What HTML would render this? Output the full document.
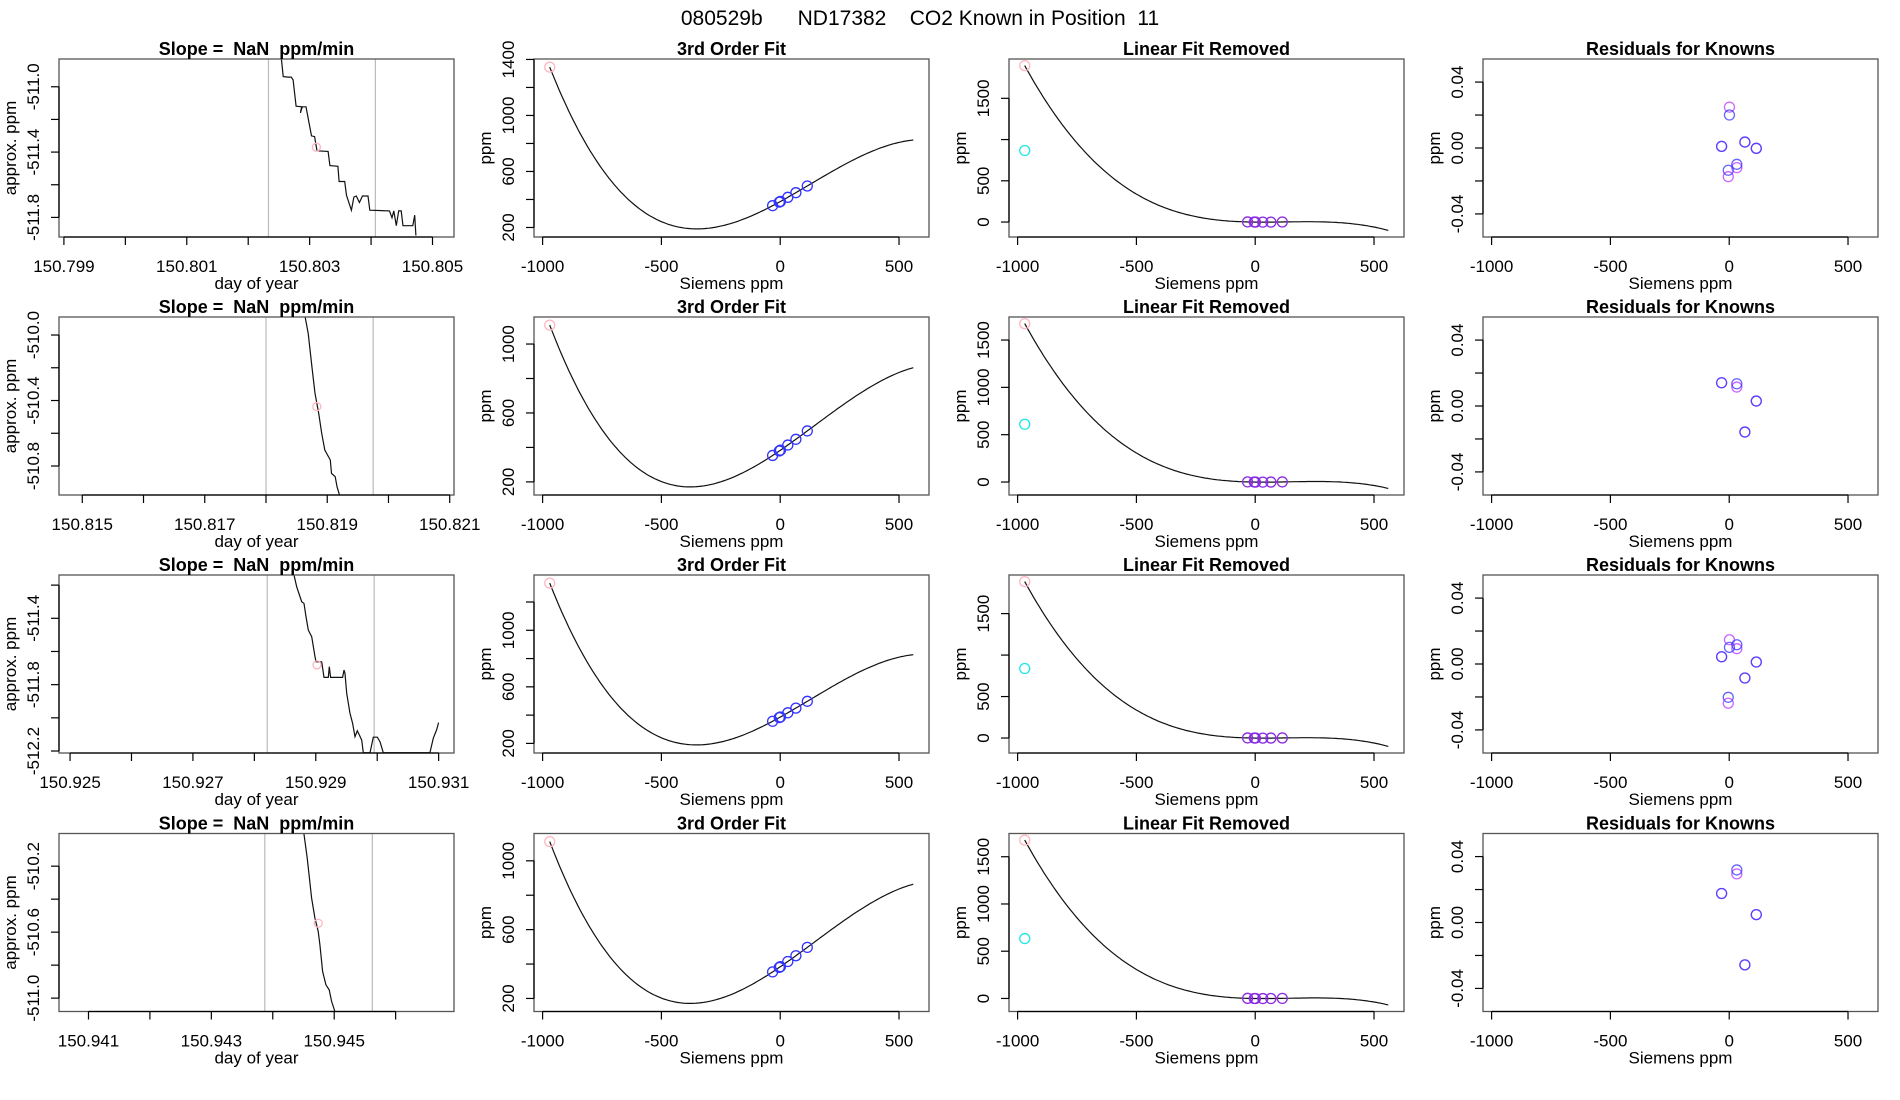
<!DOCTYPE html>
<html><head><meta charset="utf-8"><style>
html,body{margin:0;padding:0;background:#fff;}
svg{display:block;font-family:"Liberation Sans",Arial,sans-serif;}
</style></head><body>
<svg id="chart" width="1900" height="1100" viewBox="0 0 1900 1100" xmlns="http://www.w3.org/2000/svg">
<rect width="1900" height="1100" fill="#fff"/>
<text x="920" y="25" font-size="21" text-anchor="middle" xml:space="preserve">080529b      ND17382    CO2 Known in Position  11</text>
</svg>
<script>
// ---- time-trace data (column 1) ----
const trace1X = [150.80254,150.80257,150.80265,150.80270,150.80273,150.80278,150.80287,150.80285,150.80288,150.80294,150.80303,150.80308,150.80312,150.80330,150.80333,150.80346,150.80348,150.80357,150.80360,150.80368,150.80372,150.80376,150.80381,150.80386,150.80395,150.80398,150.80430,150.80434,150.80437,150.80441,150.80445,150.80449,150.80452,150.80468,150.80471,150.80473];
const trace1Y = [-510.828,-510.938,-510.941,-510.941,-510.958,-511.119,-511.123,-511.160,-511.123,-511.123,-511.301,-511.305,-511.392,-511.396,-511.483,-511.487,-511.580,-511.580,-511.665,-511.756,-511.675,-511.669,-511.709,-511.669,-511.669,-511.756,-511.760,-511.802,-511.760,-511.851,-511.760,-511.760,-511.851,-511.851,-511.786,-511.911];
const trace2X = [150.81864,150.81869,150.81875,150.81880,150.81886,150.81891,150.81896,150.81905,150.81907,150.81913,150.81916,150.81920];
const trace2Y = [-509.892,-509.990,-510.193,-510.356,-510.478,-510.600,-510.702,-510.763,-510.845,-510.865,-510.926,-510.977];
const trace3X = [150.928645,150.928689,150.928770,150.928808,150.928840,150.928878,150.928933,150.928987,150.929003,150.929096,150.929133,150.929204,150.929220,150.929242,150.929437,150.929459,150.929475,150.929503,150.929557,150.929600,150.929638,150.929676,150.929708,150.929747,150.929773,150.929882,150.929936,150.930001,150.930045,150.930099,150.930289,150.930398,150.930858,150.930913,150.930967,150.931000];
const trace3Y = [-511.139,-511.210,-511.300,-511.310,-511.390,-511.471,-511.511,-511.631,-511.662,-511.662,-511.756,-511.756,-511.692,-511.756,-511.756,-511.712,-511.732,-511.852,-511.973,-512.033,-512.114,-512.078,-512.103,-512.134,-512.210,-512.210,-512.117,-512.117,-512.144,-512.210,-512.210,-512.210,-512.210,-512.123,-512.073,-512.029];
const trace4X = [150.944507,150.944560,150.944632,150.944686,150.944739,150.944767,150.944811,150.944865,150.944919,150.944958,150.945011];
const trace4Y = [-510.002,-510.150,-510.393,-510.514,-510.595,-510.676,-510.838,-510.919,-510.950,-511.020,-511.081];
const markX = [150.80311,150.81883,150.92902,150.94474];
const markY = [-511.37,-510.437,-511.681,-510.546];
const windowStart = [150.80233,150.81800,150.92821,150.94387];
const windowEnd = [150.80407,150.81975,150.92995,150.94562];
const traceXlim = [[150.79892,150.80535],[150.81462,150.82107],[150.92482,150.93125],[150.94052,150.94695]];
const traceYlim = [[-511.92,-510.83],[-510.977,-509.89],[-512.212,-511.139],[-511.081,-510.002]];
const traceXticks = [[150.799,150.800,150.801,150.802,150.803,150.804,150.805],[150.815,150.816,150.817,150.818,150.819,150.820,150.821],[150.925,150.926,150.927,150.928,150.929,150.930,150.931],[150.941,150.942,150.943,150.944,150.945,150.946]];
const traceXlabels = [["150.799","","150.801","","150.803","","150.805"],["150.815","","150.817","","150.819","","150.821"],["150.925","","150.927","","150.929","","150.931"],["150.941","","150.943","","150.945",""]];
const traceYticks = [[-511.8,-511.6,-511.4,-511.2,-511.0],[-510.8,-510.6,-510.4,-510.2,-510.0],[-512.2,-512.0,-511.8,-511.6,-511.4,-511.2],[-511.0,-510.8,-510.6,-510.4,-510.2]];
const traceYlabels = [["-511.8","","-511.4","","-511.0"],["-510.8","","-510.4","","-510.0"],["-512.2","","-511.8","","-511.4",""],["-511.0","","-510.6","","-510.2"]];
// ---- calibration fit data (columns 2-4); x in Siemens ppm ----
const knownX1 = [-32,-4,1,32,66,114];
const knownX2 = [-32,-4,1,32,66,114];
const knownX3 = [-32,-4,1,32,66,114];
const knownX4 = [-32,-4,1,32,66,114];
const resBlue1 = [0.001,-0.0135,0.020,-0.0099,0.0036,-0.0002];
const resMag1  = [0.001,-0.0174,0.0248,-0.0119,0.0036,-0.0002];
const resBlue2 = [0.0141,0.0135,0.0135,0.0135,-0.0158,0.003];
const resMag2  = [0.0141,0.0115,0.0115,0.0115,-0.0158,0.003];
const resBlue3 = [0.0044,-0.0202,0.0101,0.0117,-0.0085,0.0012];
const resMag3  = [0.0044,-0.0238,0.0147,0.0093,-0.0085,0.0012];
const resBlue4 = [0.0176,0.0319,0.0319,0.0319,-0.0257,0.0048];
const resMag4  = [0.0176,0.0295,0.0295,0.0295,-0.0257,0.0048];
// residual-panel visible x positions for rows 2 and 4 (others coincide)
const resShow = [[1,1,1,1,1,1],[1,0,0,1,1,1],[1,1,1,1,1,1],[1,0,0,1,1,1]];
// cubic fit coefficients a,b,c,d with u = x/100
const coef1 = [385,93.3,5.586,-1.468];
const coef2 = [383,94.3,5.41,-1.241];
const coef3 = [386,93.5,5.55,-1.46];
const coef4 = [384,94.5,5.40,-1.245];
const unknownX = [-970,-970,-970,-970];
const cyanY = [867,610,838,634];
const fitRange = [-970,560];
const col3Labels = [["0","500","","1500"],["0","500","1000","1500"],["0","500","","1500"],["0","500","1000","1500"]];

const NS = "http://www.w3.org/2000/svg";
const svg = document.getElementById('chart');
function mk(tag, attrs, parent){
  const el = document.createElementNS(NS, tag);
  for (const k in attrs) el.setAttribute(k, attrs[k]);
  (parent||svg).appendChild(el);
  return el;
}
const colLeft = [59,534,1009,1483];
const rowTop = [59,317,575,833.5];
const W = 395, H = 178;

function scales(l,t,xl,yl){
  return {
    sx: v => l + (v - xl[0])/(xl[1]-xl[0])*W,
    sy: v => t + H - (v - yl[0])/(yl[1]-yl[0])*H
  };
}
function drawFrame(g,l,t,title){
  const box = mk('rect',{x:l,y:t,width:W,height:H,fill:'none',stroke:'#555','stroke-width':1.3},g);
  
  
  const tt = mk('text',{x:l+W/2,y:t-4,'font-size':18,'font-weight':'bold','text-anchor':'middle'},g);
  tt.setAttributeNS('http://www.w3.org/XML/1998/namespace','xml:space','preserve');
  tt.style.whiteSpace = 'pre';
  tt.textContent = title;
  
  
}
function colLeftOf(g){ return +g.getAttribute('data-left'); }
function rowTopOf(g){ return +g.getAttribute('data-top'); }
function drawXAxis(g,s,t,ticks,labels,title){
  const yb = t+H;
  const ax = mk('line',{x1:s.sx(ticks[0]),x2:s.sx(ticks[ticks.length-1]),y1:yb,y2:yb,stroke:'#000','stroke-width':1.3},g);
  
  
  ticks.forEach((v,i)=>{
    const tk = mk('line',{x1:s.sx(v),x2:s.sx(v),y1:yb,y2:yb+8,stroke:'#000','stroke-width':1.2},g);
    
    
    if (labels[i]) {
      const tx = mk('text',{x:s.sx(v),y:yb+35,'font-size':17,'text-anchor':'middle'},g);
      tx.textContent = labels[i];
      
      
    }
  });
  const xt = mk('text',{x:colLeftOf(g)+W/2,y:yb+52,'font-size':17,'text-anchor':'middle'},g);
  xt.textContent = title;
  
  
}
function drawYAxis(g,s,l,ticks,labels,title){
  const ax = mk('line',{x1:l,x2:l,y1:s.sy(ticks[0]),y2:s.sy(ticks[ticks.length-1]),stroke:'#000','stroke-width':1.3},g);
  
  
  ticks.forEach((v,i)=>{
    const y = s.sy(v);
    const tk = mk('line',{x1:l-8,x2:l,y1:y,y2:y,stroke:'#000','stroke-width':1.2},g);
    
    
    if (labels[i]) {
      const tx = mk('text',{x:0,y:0,'font-size':17,'text-anchor':'middle',transform:`translate(${l-20},${y}) rotate(-90)`},g);
      tx.textContent = labels[i];
      
      
    }
  });
  const yt = mk('text',{x:0,y:0,'font-size':17,'text-anchor':'middle',transform:`translate(${l-43},${rowTopOf(g)+H/2}) rotate(-90)`},g);
  yt.textContent = title;
  
  
}
function circle(g,x,y,color,name,op){
  const c = mk('circle',{cx:x,cy:y,r:5,fill:'none',stroke:color,'stroke-width':1.3,'stroke-opacity':op||1},g);
  
  
  return c;
}
function cubic(cf,x){ const u=x/100; return cf[0]+cf[1]*u+cf[2]*u*u+cf[3]*u*u*u; }
function linfit(xs,ys){
  const n=xs.length; let mx=0,my=0; for(let i=0;i<n;i++){mx+=xs[i];my+=ys[i];} mx/=n; my/=n;
  let sxy=0,sxx=0; for(let i=0;i<n;i++){sxy+=(xs[i]-mx)*(ys[i]-my); sxx+=(xs[i]-mx)**2;}
  const b=sxy/sxx; return [my-b*mx,b];
}
function rng(vals,f){ f=f||0.04; const mn=Math.min(...vals), mx=Math.max(...vals), e=(mx-mn)*f; return [mn-e,mx+e]; }
function range(a,b,st){ const r=[]; for(let v=Math.ceil(a/st)*st; v<=b+1e-9; v+=st) r.push(Math.round(v*1000)/1000); return r; }

const traces = [[trace1X,trace1Y],[trace2X,trace2Y],[trace3X,trace3Y],[trace4X,trace4Y]];
const knowns = [knownX1,knownX2,knownX3,knownX4];
const resB = [resBlue1,resBlue2,resBlue3,resBlue4];
const resM = [resMag1,resMag2,resMag3,resMag4];
const coefs = [coef1,coef2,coef3,coef4];
const fitXlim = [fitRange[0]-(fitRange[1]-fitRange[0])*0.04-5, fitRange[1]+(fitRange[1]-fitRange[0])*0.04+5];
const sieTicks = [-1000,-500,0,500];
const sieLabels = ["-1000","-500","0","500"];

for (let r=0;r<4;r++){
  const t = rowTop[r];
  {
    const l = colLeft[0];
    const g = mk('g',{'data-left':l,'data-top':t});
    
    
    const s = scales(l,t,traceXlim[r],traceYlim[r]);
    const clip = mk('clipPath',{id:'clip'+r},g);
    mk('rect',{x:l,y:t,width:W,height:H},clip);
    [windowStart[r],windowEnd[r]].forEach(v=>{
      const ln = mk('line',{x1:s.sx(v),x2:s.sx(v),y1:t,y2:t+H,stroke:'#bbb','stroke-width':1.2},g);
      
      
    });
    const [tx,ty] = traces[r];
    const d = tx.map((v,i)=>(i?'L':'M')+s.sx(v).toFixed(1)+','+s.sy(ty[i]).toFixed(1)).join('');
    const p = mk('path',{d:d,fill:'none',stroke:'#111','stroke-width':1.2,'clip-path':`url(#clip${r})`},g);
    
    
    const mc = circle(g,s.sx(markX[r]),s.sy(markY[r]),'#ffb6c1','trace-marker');
    mc.setAttribute('r',4);
    drawFrame(g,l,t,'Slope =  NaN  ppm/min');
    drawXAxis(g,s,t,traceXticks[r],traceXlabels[r],'day of year');
    drawYAxis(g,s,l,traceYticks[r],traceYlabels[r],'approx. ppm');
  }
  const cf = coefs[r], kx = knowns[r];
  const measB = kx.map((x,i)=>cubic(cf,x)+resB[r][i]);
  const curveX = []; for (let x=fitRange[0]; x<=fitRange[1]; x+=10) curveX.push(x);
  {
    const l = colLeft[1];
    const g = mk('g',{'data-left':l,'data-top':t});
    
    
    const cy = curveX.map(x=>cubic(cf,x));
    const yl = rng(cy.concat(measB),0.05);
    const s = scales(l,t,fitXlim,yl);
    const p = mk('path',{d:curveX.map((x,i)=>(i?'L':'M')+s.sx(x).toFixed(1)+','+s.sy(cy[i]).toFixed(1)).join(''),fill:'none',stroke:'#111','stroke-width':1.2},g);
    
    
    circle(g,s.sx(unknownX[r]),s.sy(cubic(cf,unknownX[r])),'#ffb6c1','unknown-point');
    kx.forEach((x,i)=>circle(g,s.sx(x),s.sy(measB[i]),'#3333ff','known-point'));
    drawFrame(g,l,t,'3rd Order Fit');
    drawXAxis(g,s,t,sieTicks,sieLabels,'Siemens ppm');
    const yt = range(yl[0],yl[1],200);
    drawYAxis(g,s,l,yt,yt.map(v=>(v%400===200)?String(v):''),'ppm');
  }
  {
    const l = colLeft[2];
    const g = mk('g',{'data-left':l,'data-top':t});
    
    
    const lf = linfit(kx,measB);
    const cy = curveX.map(x=>cubic(cf,x)-(lf[0]+lf[1]*x));
    const ky = kx.map((x,i)=>measB[i]-(lf[0]+lf[1]*x));
    const yl = rng(cy.concat(ky,[cyanY[r]]));
    const s = scales(l,t,fitXlim,yl);
    const p = mk('path',{d:curveX.map((x,i)=>(i?'L':'M')+s.sx(x).toFixed(1)+','+s.sy(cy[i]).toFixed(1)).join(''),fill:'none',stroke:'#111','stroke-width':1.2},g);
    
    
    circle(g,s.sx(unknownX[r]),s.sy(cubic(cf,unknownX[r])-(lf[0]+lf[1]*unknownX[r])),'#ffb6c1','unknown-point');
    circle(g,s.sx(unknownX[r]),s.sy(cyanY[r]),'#22e6e6','cyan-point');
    kx.forEach((x,i)=>circle(g,s.sx(x),s.sy(ky[i]),'#8a2be2','known-point'));
    drawFrame(g,l,t,'Linear Fit Removed');
    drawXAxis(g,s,t,sieTicks,sieLabels,'Siemens ppm');
    drawYAxis(g,s,l,[0,500,1000,1500],col3Labels[r],'ppm');
  }
  {
    const l = colLeft[3];
    const g = mk('g',{'data-left':l,'data-top':t});
    
    
    const s = scales(l,t,fitXlim,[-0.054,0.054]);
    kx.forEach((x,i)=>{ if (resShow[r][i]) circle(g,s.sx(x),s.sy(resM[r][i]),'#cc66ff','residual-magenta'); });
    kx.forEach((x,i)=>{ if (resShow[r][i]) circle(g,s.sx(x),s.sy(resB[r][i]),'#3333ff','residual-blue',0.75); });
    drawFrame(g,l,t,'Residuals for Knowns');
    drawXAxis(g,s,t,sieTicks,sieLabels,'Siemens ppm');
    drawYAxis(g,s,l,[-0.04,-0.02,0,0.02,0.04],['-0.04','','0.00','','0.04'],'ppm');
  }
}
</script>
</body></html>
